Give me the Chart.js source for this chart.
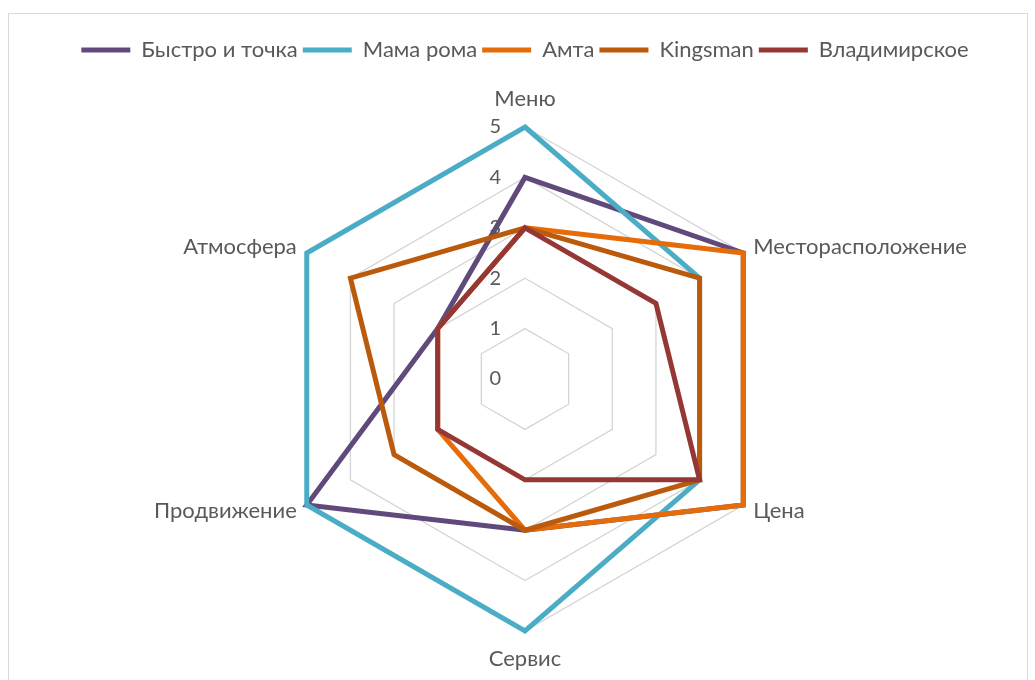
<!DOCTYPE html>
<html>
<head>
<meta charset="utf-8">
<script src="https://cdn.jsdelivr.net/npm/chart.js@4"></script>
<style>
  html, body { margin: 0; padding: 0; background: #fff; overflow: hidden; }
  #frame { position: absolute; left: 8px; top: 13px; width: 1018px; height: 700px; border: 1px solid #d9d9d9; }
  #wrap { position: absolute; left: 0; top: 0; width: 1035px; height: 680px; }
</style>
</head>
<body>
<div id="frame"></div>
<div id="wrap"><canvas id="radar"></canvas></div>
<script>
////////////////// Data ///////////////////////

const criteria = ["Меню", "Месторасположение", "Цена", "Сервис", "Продвижение", "Атмосфера"];
const tickValues = [0, 1, 2, 3, 4, 5];

const bystroTochka = [4, 5, 5, 3, 5, 2];
const mamaRoma = [5, 4, 4, 5, 5, 5];
const amta = [3, 5, 5, 3, 2, 2];
const kingsman = [3, 4, 4, 3, 3, 4];
const vladimirskoe = [3, 3, 4, 2, 2, 2];

const seriesNames = ["Быстро и точка", "Мама рома", "Амта", "Kingsman", "Владимирское"];
const seriesValues = [bystroTochka, mamaRoma, amta, kingsman, vladimirskoe];
const seriesColors = ["#604A7B", "#4BACC6", "#E46C0A", "#BC5A0C", "#953735"];

const textColor = "#595959";
const fontFamily = "Lato, 'Open Sans', sans-serif";

////////////////// Plugins ///////////////////////

// extra space under the legend, like the Excel layout
const legendGap = {
  id: "legendGap",
  beforeInit(chart) {
    const fit = chart.legend.fit;
    chart.legend.fit = function () {
      fit.bind(chart.legend)();
      this.height += 56;
    };
  },
};

// tick numbers left of the vertical axis + category labels next to the vertices
const radarText = {
  id: "radarText",
  afterDraw(chart) {
    const ctx = chart.ctx;
    const scale = chart.scales.r;
    ctx.save();
    ctx.fillStyle = textColor;
    ctx.textBaseline = "middle";

    ctx.font = "20px " + fontFamily;
    ctx.textAlign = "right";
    tickValues.forEach((v) => {
      const d = scale.getDistanceFromCenterForValue(v);
      ctx.fillText(String(v), scale.xCenter - 24, scale.yCenter - d);
    });

    ctx.font = "22px " + fontFamily;
    criteria.forEach((name, i) => {
      const p = scale.getPointPosition(i, scale.drawingArea);
      const dx = p.x - scale.xCenter;
      const dy = p.y - scale.yCenter;
      if (Math.abs(dx) < 1) {
        ctx.textAlign = "center";
        ctx.fillText(name, p.x, p.y + Math.sign(dy) * 28);
      } else {
        ctx.textAlign = dx > 0 ? "left" : "right";
        ctx.fillText(name, p.x + Math.sign(dx) * 10, p.y + Math.sign(dy) * 6);
      }
    });
    ctx.restore();
  },
};

////////////////// Chart ///////////////////////

const ctx = document.getElementById("radar");
const myChart = new Chart(ctx, {
  type: "radar",
  data: {
    labels: criteria,
    datasets: seriesNames.map((name, i) => ({
      label: name,
      data: seriesValues[i],
      borderColor: seriesColors[i],
      backgroundColor: seriesColors[i],
      borderWidth: 5,
      fill: false,
      pointRadius: 0,
      pointHoverRadius: 0,
      order: seriesNames.length - i, // later series drawn on top
    })),
  },
  options: {
    responsive: true,
    maintainAspectRatio: false,
    animation: false,
    layout: {
      padding: { top: 34, bottom: 48, left: 15, right: 0 },
    },
    scales: {
      r: {
        min: 0,
        max: 5,
        ticks: { stepSize: 1, display: false },
        grid: { color: "#d5d5d5", lineWidth: 1.3 },
        angleLines: { display: false },
        pointLabels: { display: false },
      },
    },
    plugins: {
      legend: {
        position: "top",
        labels: {
          boxWidth: 49,
          boxHeight: 5,
          padding: 5,
          color: textColor,
          useBorderRadius: true,
          borderRadius: 2.5,
          font: { family: fontFamily, size: 22 },
          generateLabels(chart) {
            return chart.data.datasets.map((ds, i) => ({
              text: ds.label,
              fillStyle: ds.borderColor,
              strokeStyle: ds.borderColor,
              lineWidth: 0,
              fontColor: textColor,
              hidden: !chart.isDatasetVisible(i),
              datasetIndex: i,
            }));
          },
        },
      },
      tooltip: { enabled: false },
    },
  },
  plugins: [legendGap, radarText],
});
</script>
</body>
</html>
